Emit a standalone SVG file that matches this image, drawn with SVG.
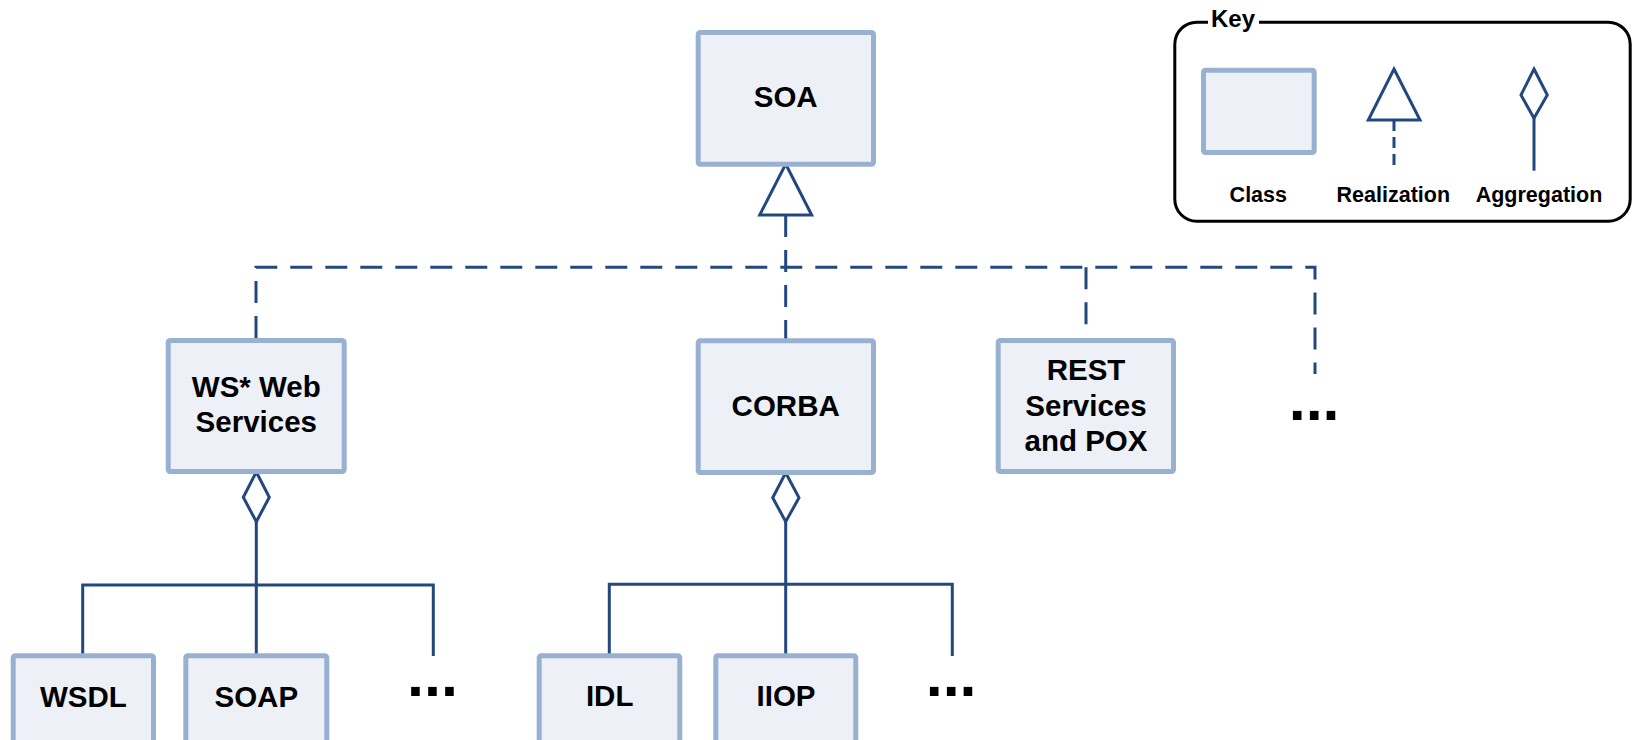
<svg xmlns="http://www.w3.org/2000/svg" width="1633" height="740" viewBox="0 0 1633 740">
  <style>
    .cls { fill: #edf0f6; stroke: #98b1d1; stroke-width: 5; }
    .lbl { font-family: "Liberation Sans", Arial, sans-serif; font-weight: bold; font-size: 29.5px; fill: #000; text-anchor: middle; }
    .klbl { font-family: "Liberation Sans", Arial, sans-serif; font-weight: bold; font-size: 21.5px; fill: #000; text-anchor: middle; }
    .more { font-family: "Liberation Sans", Arial, sans-serif; font-weight: bold; font-size: 61px; fill: #000; }
    .real { fill: none; stroke: #23477f; stroke-width: 3; stroke-dasharray: 22 13; }
    .agg { fill: none; stroke: #23477f; stroke-width: 3; }
    .head { fill: #fff; stroke: #23477f; stroke-width: 3; stroke-linejoin: miter; }
  </style>
  <rect width="1633" height="740" fill="#fff"/>

  <!-- connectors -->
  <g id="connectors">
    <!-- realization of SOA -->
    <path class="real" d="M256,338 V267.3 H1315 V374"/>
    <path class="real" d="M785.7,215 V340"/>
    <path class="real" d="M1086,267.3 V331"/>
    <polygon class="head" points="785.7,164 811.7,215 759.7,215"/>
    <!-- aggregation under WS* Web Services -->
    <path class="agg" d="M256.3,521.7 V585 M82.7,654 V585 H433.3 V656 M256.3,585 V654"/>
    <polygon class="head" points="256.3,472 269.3,497.3 256.3,521.7 243.3,497.3"/>
    <!-- aggregation under CORBA -->
    <path class="agg" d="M785.7,521.7 V584.3 M609.3,654 V584.3 H952.3 V656 M785.7,584.3 V654"/>
    <polygon class="head" points="785.7,472.7 799,497.7 785.7,521.7 772.7,497.7"/>
  </g>

  <!-- classes -->
  <g id="soa">
    <rect class="cls" x="698.2" y="32.5" width="175.3" height="131.7" rx="2"/>
    <text class="lbl" x="785.7" y="107.3">SOA</text>
  </g>
  <g id="ws-web-services">
    <rect class="cls" x="168.2" y="340.5" width="176" height="131" rx="2"/>
    <text class="lbl" x="256.3" y="396.7">WS* Web</text>
    <text class="lbl" x="256.3" y="431.7">Services</text>
  </g>
  <g id="corba">
    <rect class="cls" x="698.2" y="340.8" width="175.3" height="131.7" rx="2"/>
    <text class="lbl" x="785.7" y="416">CORBA</text>
  </g>
  <g id="rest-pox">
    <rect class="cls" x="998.2" y="340.5" width="175.3" height="131" rx="2"/>
    <text class="lbl" x="1086" y="380">REST</text>
    <text class="lbl" x="1086" y="415.7">Services</text>
    <text class="lbl" x="1086" y="451">and POX</text>
  </g>
  <g id="more-realizations">
    <text class="more" x="1288.7" y="419.7">...</text>
  </g>
  <g id="wsdl">
    <rect class="cls" x="13.2" y="655.8" width="140.3" height="100" rx="2"/>
    <text class="lbl" x="83.3" y="706.7">WSDL</text>
  </g>
  <g id="soap">
    <rect class="cls" x="185.8" y="655.8" width="141" height="100" rx="2"/>
    <text class="lbl" x="256.3" y="706.7">SOAP</text>
  </g>
  <g id="more-ws">
    <text class="more" x="407" y="695.5">...</text>
  </g>
  <g id="idl">
    <rect class="cls" x="539.2" y="655.8" width="140.6" height="100" rx="2"/>
    <text class="lbl" x="609.7" y="706">IDL</text>
  </g>
  <g id="iiop">
    <rect class="cls" x="715.8" y="655.8" width="140" height="100" rx="2"/>
    <text class="lbl" x="786" y="706">IIOP</text>
  </g>
  <g id="more-corba">
    <text class="more" x="925.7" y="695.5">...</text>
  </g>

  <!-- legend -->
  <g id="key">
    <rect x="1174.8" y="22.2" width="455.4" height="199" rx="22" fill="#fff" stroke="#000" stroke-width="3"/>
    <rect x="1208" y="10" width="51" height="20" fill="#fff"/>
    <text x="1211" y="27.3" font-family="Liberation Sans, Arial, sans-serif" font-weight="bold" font-size="24px">Key</text>
    <rect class="cls" x="1203.5" y="70.2" width="110.7" height="82.3" rx="2"/>
    <path d="M1394,120 V165.7" fill="none" stroke="#23477f" stroke-width="3" stroke-dasharray="11 6"/>
    <polygon class="head" points="1394,69 1420,120 1368.3,120"/>
    <path class="agg" d="M1534,118.3 V170.7"/>
    <polygon class="head" points="1534,69 1547.3,95 1534,118.3 1521,95"/>
    <text class="klbl" x="1258.3" y="201.7">Class</text>
    <text class="klbl" x="1393.3" y="201.7">Realization</text>
    <text class="klbl" x="1539" y="201.7">Aggregation</text>
  </g>
</svg>
